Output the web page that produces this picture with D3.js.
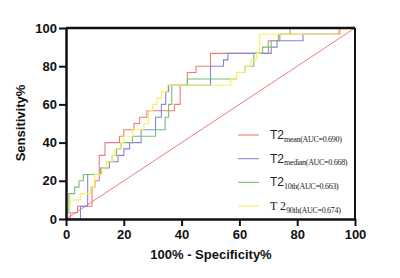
<!DOCTYPE html>
<html>
<head>
<meta charset="utf-8">
<script src="https://cdn.jsdelivr.net/npm/d3@7"></script>
<style>
  body { margin: 0; background: #fff; }
  svg { display: block; }
</style>
</head>
<body>
<svg id="chart" width="400" height="278"></svg>
<script>
// ROC staircases, [100% - specificity, sensitivity], drawn with curveStepAfter
const t2mean = [[0,0],[1.5,3.3],[4,6.7],[9,16.7],[10,20],[11.5,33.3],[13.5,40],[18.5,43.3],[20,46.7],[23.5,50],[25.5,53.3],[28,56.7],[37.5,60],[39.5,70],[42,76.7],[45,80],[50,86.7],[70,93.3],[74,96.7],[94.5,100],[100,100]];
const t2median = [[0,0],[5,6.7],[7.5,23.3],[12,26.7],[15,30],[18,33.3],[20,36.7],[22,40],[26,46.7],[31,53.3],[33,60],[34.5,66.7],[35.5,70],[50,80],[54.5,83.3],[56,86.7],[71,90],[73,93.3],[82,96.7],[95,100],[100,100]];
const t2p10 = [[0,0],[0,3.3],[1,13.3],[3,16.7],[4.5,20],[6,23.3],[12,26.7],[14,30],[16,33.3],[17.5,36.7],[19,40],[23,43.3],[31,46.7],[34.3,53.3],[35.5,60],[36.6,70],[42,73.3],[59,76.7],[62,80],[65,86.7],[68,90],[71,93.3],[73.5,96.7],[77.5,100],[100,100]];
const t2p90 = [[0,0],[0,6.7],[1.5,10],[5,13.3],[8.5,16.7],[10,23.3],[12.5,26.7],[14,30],[16,33.3],[17,36.7],[19,40],[20,43.3],[23,46.7],[27,50],[28.5,56.7],[30,60],[31.5,63.3],[33,66.7],[35,70],[57,73.3],[59,76.7],[62,80],[64,83.3],[66,86.7],[67,96.7],[95,100],[100,100]];
const reference = [[0,0],[100,100]];

const ticks = [0, 20, 40, 60, 80, 100];
const seriesNames = ["mean", "median", "10th", "90th"];
const seriesAuc = ["0.690", "0.668", "0.663", "0.674"];
const seriesColors = ["#ee7b7b", "#8585dc", "#72c072", "#f7f25c"];

const svg = d3.select("#chart");
const x = d3.scaleLinear().domain([0, 100]).range([66, 355]);
const y = d3.scaleLinear().domain([0, 100]).range([219, 28]);

const line = d3.line().x(d => x(d[0])).y(d => y(d[1]));
const stepLine = d3.line().x(d => x(d[0])).y(d => y(d[1])).curve(d3.curveStepAfter);

// chance line
svg.append("path").attr("d", line(reference))
  .attr("fill", "none").attr("stroke", "#ee7b7b").attr("stroke-width", 1);

// curves, last one on top like the original
[t2mean, t2median, t2p10, t2p90].forEach((s, i) => {
  svg.append("path").attr("d", stepLine(s))
    .attr("fill", "none").attr("stroke", seriesColors[i]).attr("stroke-width", 1.1);
});

// frame: top and right edges
svg.append("line").attr("x1", x(0)).attr("x2", x(100)).attr("y1", y(100)).attr("y2", y(100))
  .attr("stroke", "#111").attr("stroke-width", 2.5);
svg.append("line").attr("x1", x(100)).attr("x2", x(100)).attr("y1", y(100)).attr("y2", y(0))
  .attr("stroke", "#111").attr("stroke-width", 2);

const font = "'Liberation Sans', Arial, sans-serif";

const xAxis = svg.append("g").attr("transform", `translate(0,${y(0)})`)
  .call(d3.axisBottom(x).tickValues(ticks).tickSize(7).tickSizeOuter(0).tickPadding(4));
const yAxis = svg.append("g").attr("transform", `translate(${x(0)},0)`)
  .call(d3.axisLeft(y).tickValues(ticks).tickSize(7).tickSizeOuter(0).tickPadding(2));

[xAxis, yAxis].forEach(g => {
  g.select(".domain").attr("stroke", "#111").attr("stroke-width", 2.5);
  g.selectAll(".tick line").attr("stroke", "#111").attr("stroke-width", 2);
  g.selectAll(".tick text").attr("fill", "#111")
    .style("font-family", font).style("font-size", "13px").style("font-weight", "bold");
});

// axis titles
svg.append("text").attr("x", 211).attr("y", 259).attr("text-anchor", "middle")
  .style("font-family", font).style("font-size", "13px").style("font-weight", "bold")
  .attr("fill", "#111").text("100% - Specificity%");
svg.append("text").attr("transform", "translate(25,123) rotate(-90)").attr("text-anchor", "middle")
  .style("font-family", font).style("font-size", "13px").style("font-weight", "bold")
  .attr("fill", "#111").text("Sensitivity%");

// legend
const legendY = d3.scalePoint().domain(seriesNames).range([135, 206]);
seriesNames.forEach((name, i) => {
  const ly = legendY(name);
  svg.append("line").attr("x1", 238).attr("x2", 259).attr("y1", ly).attr("y2", ly)
    .attr("stroke", seriesColors[i]).attr("stroke-width", 1.1);
  const t = svg.append("text").attr("x", 270).attr("y", ly + 4).attr("fill", "#222");
  if (i === 3) {
    t.append("tspan").style("font-family", "'Liberation Serif', 'Times New Roman', serif")
      .style("font-size", "12px").text("T 2");
  } else {
    t.append("tspan").style("font-family", font).style("font-size", "12px").text("T2");
  }
  t.append("tspan").attr("dy", 2.5)
    .style("font-family", "'Liberation Serif', 'Times New Roman', serif")
    .style("font-size", "8px").style("letter-spacing", "-0.3px")
    .text(`${name}(AUC=${seriesAuc[i]})`);
});
</script>
</body>
</html>
